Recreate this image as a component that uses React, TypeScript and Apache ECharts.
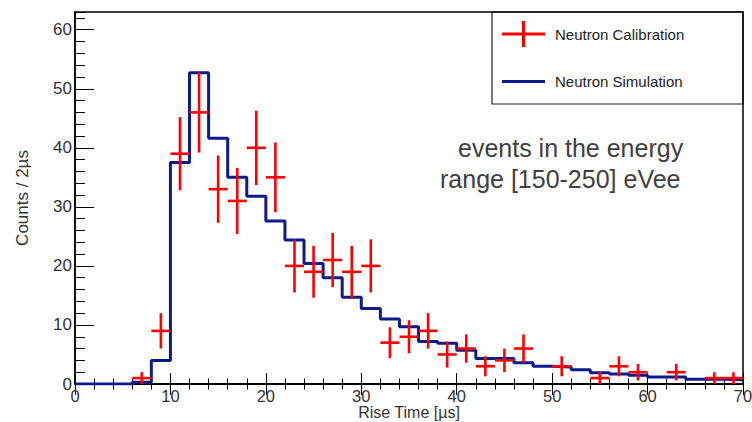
import React, { useEffect, useRef } from "react";
import * as echarts from "echarts";

// Neutron calibration (red points with error bars), bin centres in µs
const calCenters = [7, 9, 11, 13, 15, 17, 19, 21, 23, 25, 27, 29, 31, 33, 35, 37, 39, 41, 43, 45, 47, 51, 55, 57, 59, 63, 67, 69];
const calCounts = [1, 9, 39, 46, 33, 31, 40, 35, 20, 19, 21, 19, 20, 7, 8, 9, 5, 6, 3, 4, 6, 3, 1, 3, 2, 2, 1, 1];
const calErrors = [1.0, 3.0, 6.2, 6.8, 5.7, 5.6, 6.3, 5.9, 4.5, 4.4, 4.6, 4.4, 4.5, 2.6, 2.8, 3.0, 2.2, 2.4, 1.7, 2.0, 2.4, 1.7, 1.0, 1.7, 1.4, 1.4, 1.0, 1.0];

// Neutron simulation (blue step histogram), one value per 2 µs bin from 0 to 70
const binWidth = 2;
const simCounts = [0, 0, 0, 0.3, 4, 37.5, 52.7, 41.6, 35, 31.8, 27.6, 24.4, 20.4, 18, 14.7, 12.8, 11, 9.7, 7.2, 6.9, 5.7, 4.3, 4.3, 3.6, 3.0, 2.9, 2.4, 1.9, 1.7, 1.5, 1.2, 1.2, 0.8, 0.8, 0.7];

const xMin = 0;
const xMax = 70;
const yMin = 0;
const yMax = 63;

const annotationLines = ["events in the energy", "range [150-250] eVee"];

const FONT = "'Liberation Sans', Arial, Helvetica, sans-serif";

export default function App() {
  const ref = useRef<HTMLDivElement>(null);

  useEffect(() => {
    if (!ref.current) return;
    const chart = echarts.init(ref.current, undefined, { renderer: "svg" });

    const stepData: number[][] = simCounts.map((v, i) => [i * binWidth, v]);
    stepData.push([simCounts.length * binWidth, simCounts[simCounts.length - 1]]);

    const calData = calCenters.map((x, i) => [x, calCounts[i], calErrors[i]]);

    const axisLineStyle = { color: "#000", width: 1.5 };
    const tickLineStyle = { color: "#000", width: 1 };

    const option: any = {
      animation: false,
      backgroundColor: "#fff",
      grid: {
        left: 75,
        right: 9,
        top: 12,
        bottom: 38,
        containLabel: false,
        outerBoundsMode: "none",
        show: true,
        borderColor: "#000",
        borderWidth: 1.5,
        backgroundColor: "transparent",
      },
      legend: {
        show: true,
        orient: "vertical",
        left: 502,
        top: 21,
        padding: 0,
        itemWidth: 43,
        itemHeight: 26,
        itemGap: 27,
        selectedMode: false,
        textStyle: { fontSize: 15, color: "#222", fontFamily: FONT, padding: [0, 0, 0, 5] },
        data: [
          {
            name: "Neutron Calibration",
            icon: "path://M0,11.5H20V0H23V11.5H43V14.5H23V26H20V14.5H0Z",
            itemStyle: { color: "#ff0000" },
          },
          {
            name: "Neutron Simulation",
            icon: "path://M0,11.5H43V14.5H0Z",
            itemStyle: { color: "#0d1a8c" },
          },
        ],
      },
      xAxis: [
        {
          type: "value",
          position: "bottom",
          min: xMin,
          max: xMax,
          interval: 10,
          axisLine: { show: true, lineStyle: axisLineStyle },
          axisTick: { show: true, inside: true, length: 11, lineStyle: tickLineStyle },
          minorTick: { show: true, splitNumber: 5, length: 5.5, lineStyle: tickLineStyle },
          splitLine: { show: false },
          minorSplitLine: { show: false },
          axisLabel: { color: "#333", fontSize: 16.5, margin: 3, fontFamily: FONT },
          name: "Rise Time [µs]",
          nameLocation: "middle",
          nameGap: 20.5,
          nameMoveOverlap: false,
          nameTextStyle: { color: "#333", fontSize: 16, fontFamily: FONT },
        },
        {
          type: "value",
          position: "top",
          min: xMin,
          max: xMax,
          interval: 10,
          axisLine: { show: true, lineStyle: axisLineStyle },
          axisTick: { show: true, inside: true, length: 11, lineStyle: tickLineStyle },
          minorTick: { show: true, splitNumber: 5, length: 5.5, lineStyle: tickLineStyle },
          splitLine: { show: false },
          axisLabel: { show: false },
        },
      ],
      yAxis: [
        {
          type: "value",
          position: "left",
          min: yMin,
          max: yMax,
          interval: 10,
          axisLine: { show: true, lineStyle: axisLineStyle },
          axisTick: { show: true, inside: true, length: 19, lineStyle: tickLineStyle },
          splitLine: { show: false },
          axisLabel: { color: "#333", fontSize: 17, margin: 3, fontFamily: FONT, showMaxLabel: false },
          name: "Counts / 2µs",
          nameLocation: "middle",
          nameGap: 44,
          nameRotate: 90,
          nameMoveOverlap: false,
          nameTextStyle: { color: "#333", fontSize: 17, fontFamily: FONT },
        },
        {
          type: "value",
          position: "left",
          min: yMin,
          max: yMax,
          interval: 2,
          axisLine: { show: false },
          axisTick: { show: true, inside: true, length: 10, lineStyle: tickLineStyle },
          splitLine: { show: false },
          axisLabel: { show: false },
        },
      ],
      series: [
        {
          name: "Neutron Simulation",
          type: "line",
          xAxisIndex: 0,
          yAxisIndex: 0,
          step: "end",
          symbol: "none",
          data: stepData,
          lineStyle: { color: "#0d1a8c", width: 3 },
          itemStyle: { color: "#0d1a8c" },
          z: 2,
        },
        {
          name: "Neutron Calibration",
          type: "custom",
          xAxisIndex: 0,
          yAxisIndex: 0,
          encode: { x: 0, y: 1 },
          itemStyle: { color: "#ff0000" },
          data: calData,
          z: 3,
          renderItem: (params: any, api: any) => {
            const x = api.value(0);
            const y = api.value(1);
            const e = api.value(2);
            const l = api.coord([x - binWidth / 2, y]);
            const r = api.coord([x + binWidth / 2, y]);
            const t = api.coord([x, y + e]);
            const b = api.coord([x, Math.max(yMin, y - e)]);
            const style = { stroke: "#ff0000", lineWidth: 2.6 };
            return {
              type: "group",
              children: [
                { type: "line", shape: { x1: l[0], y1: l[1], x2: r[0], y2: r[1] }, style },
                { type: "line", shape: { x1: t[0], y1: t[1], x2: b[0], y2: b[1] }, style },
              ],
            };
          },
        },
      ],
      graphic: [
        {
          type: "rect",
          shape: { x: 492, y: 12, width: 251, height: 92 },
          style: { fill: "#fff", stroke: "#222", lineWidth: 1.2 },
          z: -1,
          zlevel: 0,
        },
        {
          type: "text",
          x: 458,
          y: 148,
          style: {
            text: annotationLines[0],
            font: `25px ${FONT}`,
            fill: "#404040",
            textAlign: "left",
            textVerticalAlign: "middle",
          },
        },
        {
          type: "text",
          x: 440,
          y: 179,
          style: {
            text: annotationLines[1],
            font: `25px ${FONT}`,
            fill: "#404040",
            textAlign: "left",
            textVerticalAlign: "middle",
          },
        },
      ],
    };

    chart.setOption(option);
    return () => chart.dispose();
  }, []);

  return (
    <div
      ref={ref}
      style={{ position: "fixed", left: 0, top: 0, width: 752, height: 422, background: "#fff" }}
    />
  );
}
